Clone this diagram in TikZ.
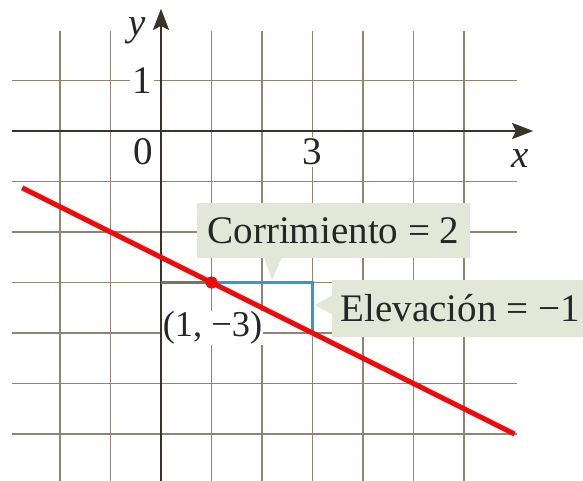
\documentclass[tikz,border=0pt]{standalone}
\usepackage{fontspec}
\setmainfont{Liberation Serif}
\usetikzlibrary{arrows.meta}
\definecolor{gridc}{HTML}{8E8672}
\definecolor{axisc}{HTML}{3A3328}
\definecolor{redl}{HTML}{F00A0A}
\definecolor{bluel}{HTML}{2E9AD6}
\definecolor{boxc}{HTML}{E3E7D8}
\definecolor{segc}{HTML}{7C735F}
\tikzset{
  gridline/.style={gridc, line width=1.1pt},
  axisline/.style={axisc, line width=1.2pt, -{Stealth[length=0.42cm, width=0.32cm, inset=0.08cm]}},
  lbl/.style={font=\fontsize{22}{26}\selectfont, inner sep=1pt, text=black!85},
  wlbl/.style={lbl, fill=white},
  callout/.style={fill=boxc, font=\fontsize{22}{26}\selectfont, text=black!85},
}
\begin{document}
\begin{tikzpicture}[x=1cm,y=1cm]
\useasboundingbox (-3.188,-6.911) rectangle (8.356,2.594);
% grid
\foreach \yy in {1,-1,-2,-3,-4,-5,-6}
  \draw[gridline] (-2.95,\yy) -- (7.05,\yy);
\foreach \xx in {-2,-1,1,2,3,4,5,6}
  \draw[gridline] (\xx,1.98) -- (\xx,-6.95);
% axes
\coordinate (xs) at (-2.95,0);
\coordinate (xe) at (7.37,0);
\coordinate (ys) at (0,-6.95);
\coordinate (ye) at (0,2.42);
\draw[axisline] (xs) -- (xe);
\draw[axisline] (ys) -- (ye);
% points
\coordinate (P) at (1,-3);
\coordinate (Q) at (3,-3);
\coordinate (R) at (3,-4);
\coordinate (Y3) at (0,-3);
\coordinate (L1) at (-2.75,-1.125);
\coordinate (L2) at (7,-6);
\draw[segc, line width=1.8pt] (Y3) -- (P);
\draw[bluel, line width=1.9pt] (P) -- (Q) -- (R);
\draw[redl, line width=2.8pt] (L1) -- (L2);
\fill[redl] (P) circle (0.12);
% callouts
\node[callout, minimum width=5.406cm, minimum height=1.089cm, inner sep=0pt] (run) at (3.416,-1.97) {Corrimiento = 2};
\coordinate (runtip) at (2.198,-2.95);
\fill[boxc] (2.04,-2.5) -- (runtip) -- (2.396,-2.5) -- cycle;
\node[callout, anchor=west, minimum height=1.13cm, inner ysep=0pt, inner xsep=0.16cm] (rise) at (3.386,-3.515) {Elevación = −1};
\coordinate (risetip) at (3.05,-3.445);
\fill[boxc] (3.4,-3.25) -- (risetip) -- (3.4,-3.64) -- cycle;
% labels
\node[wlbl, font=\fontsize{20.5}{24}\selectfont, inner sep=0.5pt] (pt) at (1.02,-3.9) {(1, −3)};
\node[lbl] (zero) at (-0.356,-0.416) {0};
\node[wlbl] (one) at (-0.376,0.99) {1};
\node[wlbl] (three) at (2.99,-0.416) {3};
\node[lbl] (xl) at (7.11,-0.55) {\itshape x};
\node[lbl] (yl) at (-0.475,1.98) {\itshape y};
\end{tikzpicture}
\end{document}
